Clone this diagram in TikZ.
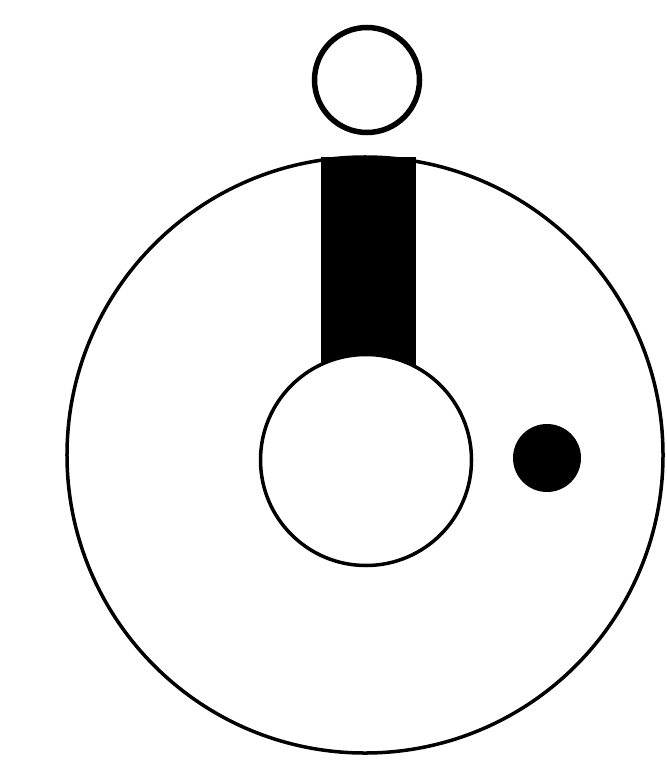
\documentclass[tikz,border=0pt]{standalone}
\usepackage{tikz}
\usetikzlibrary{positioning}

\begin{document}
\begin{tikzpicture}[x=0.4mm, y=-0.4mm,
        ring/.style={circle, draw=black, fill=white, line width=1.4mm, inner sep=0pt},
        bar/.style={rectangle, fill=black, draw=none, inner sep=0pt, anchor=north},
        spot/.style={circle, fill=black, draw=none, inner sep=0pt, minimum size=27.2mm}]
        \useasboundingbox (0,0) rectangle (667,771);
        \node[ring, minimum size=238.4mm] (outer) at (365,455) {};
        \node[bar, minimum width=38mm, minimum height=100mm] (stem) at (368,157) {};
        \node[ring, minimum size=84.4mm] (hub) at (366,460) {};
        \node[ring, minimum size=42mm, line width=2.2mm] (head) at (367,80) {};
        \node[spot] (dot) at (547,458) {};
      \end{tikzpicture}
\end{document}
